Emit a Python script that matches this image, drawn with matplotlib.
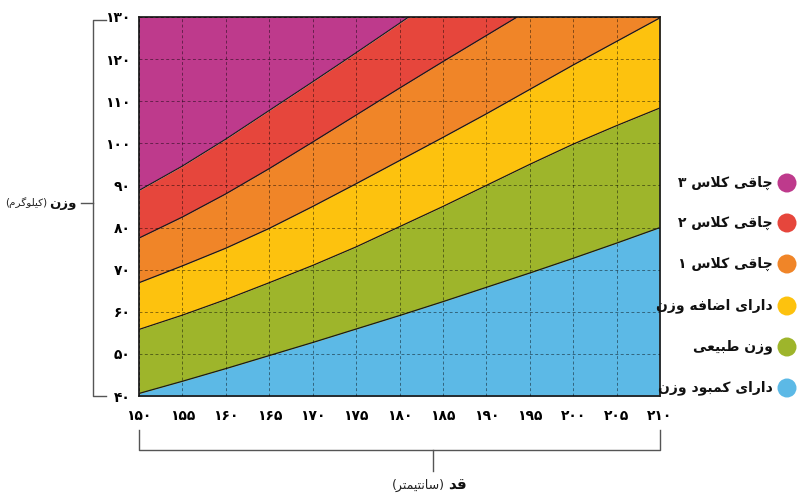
# BMI chart (height vs weight), Persian labels
import matplotlib
matplotlib.use('Agg')
import matplotlib.pyplot as plt
from matplotlib.patches import Circle

# heights in cm
heights = [150, 155, 160, 165, 170, 175, 180, 185, 190, 195, 200, 205, 210]

# upper weight limit (kg) of each band
under_top = [40.6, 43.5, 46.5, 49.6, 52.7, 55.9, 59.1, 62.4, 65.8, 69.2, 72.7, 76.3, 80.0]
normal_top = [55.8, 59.2, 62.9, 66.9, 71.0, 75.4, 80.2, 85.0, 90.0, 95.0, 99.8, 104.2, 108.4]
over_top = [66.9, 70.9, 75.1, 79.8, 85.0, 90.4, 95.9, 101.4, 107.0, 112.8, 118.6, 124.2, 129.8]
obese1_top = [77.5, 82.5, 88.0, 94.0, 100.3, 106.7, 113.1, 119.4, 125.6, 131.8, 138.0, 144.2, 150.4]
obese2_top = [88.8, 94.6, 101.0, 107.8, 114.6, 121.5, 128.5, 135.6, 142.7, 149.8, 157.0, 164.0, 171.0]

categories = ['دارای کمبود وزن', 'وزن طبیعی', 'دارای اضافه وزن',
              'چاقی کلاس ۱', 'چاقی کلاس ۲', 'چاقی کلاس ۳']
colors = ['#5CB9E6', '#9EB52B', '#FDC20E', '#F08528', '#E6463C', '#BE3A8C']

x_ticks = list(range(150, 211, 5))
y_ticks = list(range(40, 131, 10))

x_title_bold, x_title = 'قد', '(سانتیمتر)'
y_title_bold, y_title = 'وزن', '(کیلوگرم)'


# --- poor man's arabic shaping (matplotlib has no RTL / joining) ---
FORMS = {
    'ا': ('\uFE8D', '\uFE8E', None, None),
    'ب': ('\uFE8F', '\uFE90', '\uFE91', '\uFE92'),
    'ت': ('\uFE95', '\uFE96', '\uFE97', '\uFE98'),
    'د': ('\uFEA9', '\uFEAA', None, None),
    'ر': ('\uFEAD', '\uFEAE', None, None),
    'ز': ('\uFEAF', '\uFEB0', None, None),
    'س': ('\uFEB1', '\uFEB2', '\uFEB3', '\uFEB4'),
    'ض': ('\uFEBD', '\uFEBE', '\uFEBF', '\uFEC0'),
    'ط': ('\uFEC1', '\uFEC2', '\uFEC3', '\uFEC4'),
    'ع': ('\uFEC9', '\uFECA', '\uFECB', '\uFECC'),
    'ف': ('\uFED1', '\uFED2', '\uFED3', '\uFED4'),
    'ق': ('\uFED5', '\uFED6', '\uFED7', '\uFED8'),
    'ل': ('\uFEDD', '\uFEDE', '\uFEDF', '\uFEE0'),
    'م': ('\uFEE1', '\uFEE2', '\uFEE3', '\uFEE4'),
    'ن': ('\uFEE5', '\uFEE6', '\uFEE7', '\uFEE8'),
    'ه': ('\uFEE9', '\uFEEA', '\uFEEB', '\uFEEC'),
    'و': ('\uFEED', '\uFEEE', None, None),
    'ی': ('\uFBFC', '\uFBFD', '\uFBFE', '\uFBFF'),
    'ک': ('\uFB8E', '\uFB8F', '\uFB90', '\uFB91'),
    'گ': ('\uFB92', '\uFB93', '\uFB94', '\uFB95'),
    'چ': ('\uFB7A', '\uFB7B', '\uFB7C', '\uFB7D'),
}
MIRROR = {'(': ')', ')': '('}
FA_DIGITS = '۰۱۲۳۴۵۶۷۸۹'


def joins_fwd(c):
    return c in FORMS and FORMS[c][2] is not None


def shape_word(w):
    w = w.replace('ي', 'ی').replace('ك', 'ک')
    out = []
    i = 0
    n = len(w)
    while i < n:
        c = w[i]
        if c not in FORMS:
            out.append(c)
            i += 1
            continue
        prev = i > 0 and joins_fwd(w[i - 1])
        if c == 'ل' and i + 1 < n and w[i + 1] == 'ا':
            out.append('\uFEFC' if prev else '\uFEFB')
            i += 2
            continue
        nxt = i + 1 < n and w[i + 1] in FORMS and joins_fwd(c)
        f = FORMS[c]
        if prev and nxt:
            g = f[3]
        elif prev:
            g = f[1]
        elif nxt:
            g = f[2]
        else:
            g = f[0]
        out.append(g)
        i += 1
    return out


def fa(text):
    vis = []
    for w in text.split(' '):
        if all(ch in FA_DIGITS for ch in w):
            vis.append(w)
            continue
        chars = [MIRROR.get(ch, ch) for ch in shape_word(w)[::-1]]
        vis.append(''.join(chars))
    return ' '.join(vis[::-1])


def fa_num(v):
    return str(v).translate(str.maketrans('0123456789', FA_DIGITS))


plt.rcParams['font.family'] = ['DejaVu Sans']

fig = plt.figure(figsize=(8, 5), dpi=100)
ax = fig.add_axes([139 / 800, 1 - 396 / 500, 521 / 800, 379 / 500])

bounds = [[0] * len(heights), under_top, normal_top, over_top, obese1_top, obese2_top,
          [300] * len(heights)]
for i in range(6):
    ax.fill_between(heights, bounds[i], bounds[i + 1], color=colors[i], lw=0, zorder=1)
for b in bounds[1:6]:
    ax.plot(heights, b, color='#1a1a1a', lw=0.9, zorder=2)

ax.set_xlim(150, 210)
ax.set_ylim(40, 130)
ax.set_xticks(x_ticks)
ax.set_yticks(y_ticks)
ax.set_xticklabels([fa_num(v) for v in x_ticks], fontsize=10, fontweight='bold')
ax.set_yticklabels([fa_num(v) for v in y_ticks], fontsize=10, fontweight='bold')
ax.tick_params(length=0)
ax.tick_params(axis='x', pad=9)
ax.tick_params(axis='y', pad=6)
ax.grid(True, color='black', alpha=0.45, lw=0.7, linestyle=(0, (3, 2.5)))
ax.set_axisbelow(False)
for sp in ax.spines.values():
    sp.set_color('#222222')
    sp.set_linewidth(1.3)

# overlay in pixel coords for brackets, titles and legend
ov = fig.add_axes([0, 0, 1, 1])
ov.set_xlim(0, 800)
ov.set_ylim(500, 0)
ov.axis('off')
ov.patch.set_alpha(0)

bc = '#555555'
ov.plot([106, 93, 93, 106], [20, 20, 396, 396], color=bc, lw=1)
ov.plot([81, 93], [203, 203], color=bc, lw=1)
ov.plot([139, 139, 660, 660], [430, 450, 450, 430], color=bc, lw=1)
ov.plot([433, 433], [450, 471], color=bc, lw=1)

# legend
leg_y = [388, 347, 306, 264, 223, 183]
for name, col, yy in zip(categories, colors, leg_y):
    ov.add_patch(Circle((787, yy), 9.5, color=col, lw=0))
    ov.text(773, yy, fa(name), ha='right', va='center', fontsize=10,
            fontweight='bold', color='#111111')

# axis titles: bold word + regular unit
yb = ov.text(77, 203, fa(y_title_bold), ha='right', va='center', fontsize=9.5,
             fontweight='bold', color='#111111')
xb = ov.text(467, 485, fa(x_title_bold), ha='right', va='center', fontsize=11,
             fontweight='bold', color='#111111')
fig.canvas.draw()
r = fig.canvas.get_renderer()
yx0 = yb.get_window_extent(r).x0
xx0 = xb.get_window_extent(r).x0
ov.text(yx0 - 2, 203, fa(y_title), ha='right', va='center', fontsize=7.5, color='#222222')
ov.text(xx0 - 3, 485, fa(x_title), ha='right', va='center', fontsize=9, color='#222222')

fig.savefig('out.png', dpi=100)
